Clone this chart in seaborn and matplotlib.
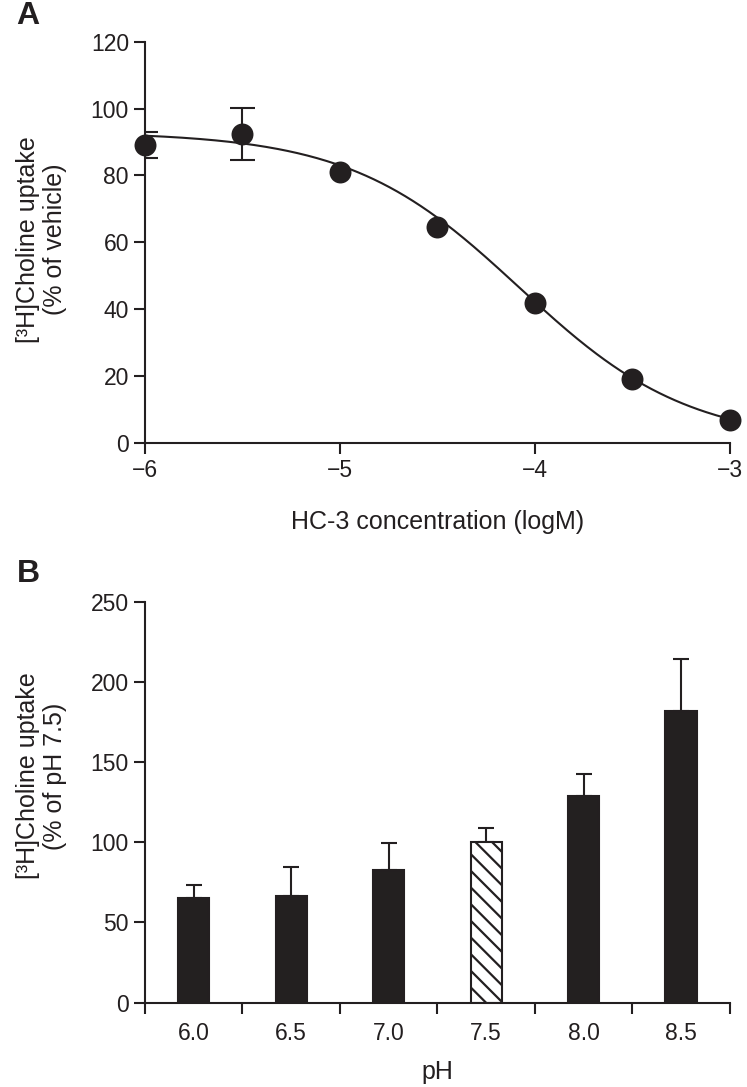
import numpy as np
import pandas as pd
import matplotlib
matplotlib.use("Agg")
import matplotlib.pyplot as plt
import seaborn as sns

# Panel A: HC-3 concentration-response
log_conc = [-6.0, -5.5, -5.0, -4.5, -4.0, -3.5, -3.0]
uptake_mean = [89.0, 92.5, 81.0, 64.5, 42.0, 19.0, 7.0]
uptake_sem = [3.9, 7.8, np.nan, np.nan, np.nan, np.nan, np.nan]

# fitted sigmoid (Hill) parameters of the drawn curve
fit_top = 93.0
fit_bottom = 0.0
fit_logic50 = -4.08
fit_hill = 1.0

# Panel B: pH dependence
ph_labels = ["6.0", "6.5", "7.0", "7.5", "8.0", "8.5"]
ph_uptake = [65.0, 66.5, 82.5, 100.0, 129.0, 182.0]
ph_sem = [8.4, 18.0, 17.0, 9.0, 13.7, 32.0]

INK = "#231f20"

sns.set_style("ticks")
plt.rcParams["font.family"] = ["Liberation Sans", "DejaVu Sans"]
plt.rcParams["text.color"] = INK
plt.rcParams["axes.labelcolor"] = INK
plt.rcParams["xtick.color"] = INK
plt.rcParams["ytick.color"] = INK
plt.rcParams["hatch.linewidth"] = 1.6
plt.rcParams["hatch.color"] = INK

fig = plt.figure(figsize=(7.47, 10.87), dpi=100)
ax_a = fig.add_axes([0.194, 0.5925, 0.783, 0.3691])
ax_b = fig.add_axes([0.194, 0.0777, 0.783, 0.3688])

fs = 16.5
fs_lab = 18
lw = 1.5

# ---- Panel A ----
xs = np.linspace(-6, -3, 300)
curve = fit_bottom + (fit_top - fit_bottom) / (1 + 10 ** ((xs - fit_logic50) * fit_hill))
sns.lineplot(x=xs, y=curve, ax=ax_a, color=INK, linewidth=1.5)
ax_a.errorbar(log_conc, uptake_mean, yerr=uptake_sem, fmt="none", ecolor=INK,
              elinewidth=1.5, capsize=9, capthick=1.5, zorder=3)
sns.scatterplot(x=log_conc, y=uptake_mean, ax=ax_a, color=INK, s=250,
                edgecolor=INK, linewidth=0, zorder=4, clip_on=False)

ax_a.set_xlim(-6, -3)
ax_a.set_ylim(0, 120)
ax_a.set_xticks([-6, -5, -4, -3])
ax_a.set_xticklabels(["\u22126", "\u22125", "\u22124", "\u22123"])
ax_a.set_yticks(range(0, 121, 20))
ax_a.set_xlabel("HC-3 concentration (logM)", fontsize=fs_lab, labelpad=20)
ax_a.set_ylabel("[\u00b3H]Choline uptake\n(% of vehicle)", fontsize=fs_lab,
                linespacing=1.15)
ax_a.yaxis.set_label_coords(-0.133, 0.508)

# ---- Panel B ----
df_b = pd.DataFrame({"pH": ph_labels, "uptake": ph_uptake})
pal = {p: ("white" if p == "7.5" else INK) for p in ph_labels}
sns.barplot(data=df_b, x="pH", y="uptake", hue="pH", palette=pal, legend=False,
            width=0.32, edgecolor=INK, linewidth=1.5, ax=ax_b, zorder=2)
for patch, p in zip(ax_b.patches, ph_labels):
    if p == "7.5":
        patch.set_hatch("\\\\")
ax_b.errorbar(range(len(ph_labels)), ph_uptake,
              yerr=[np.zeros(len(ph_sem)), ph_sem], fmt="none", ecolor=INK,
              elinewidth=1.5, capsize=6, capthick=1.5, zorder=1)

ax_b.set_xlim(-0.5, len(ph_labels) - 0.5)
ax_b.set_ylim(0, 250)
ax_b.set_yticks(range(0, 251, 50))
ax_b.set_xticks(np.arange(-0.5, len(ph_labels), 1.0))
ax_b.set_xticklabels([])
ax_b.set_xticks(range(len(ph_labels)), minor=True)
ax_b.set_xticklabels(ph_labels, minor=True)
ax_b.tick_params(axis="x", which="minor", length=0, pad=14)
ax_b.set_xlabel("pH", fontsize=fs_lab, labelpad=11)
ax_b.set_ylabel("[\u00b3H]Choline uptake\n(% of pH 7.5)", fontsize=fs_lab,
                linespacing=1.15)
ax_b.yaxis.set_label_coords(-0.133, 0.565)

for ax in (ax_a, ax_b):
    sns.despine(ax=ax)
    ax.spines["left"].set_linewidth(lw)
    ax.spines["bottom"].set_linewidth(lw)
    ax.spines["left"].set_color(INK)
    ax.spines["bottom"].set_color(INK)
    ax.tick_params(axis="both", which="major", labelsize=fs, width=lw, length=8,
                   direction="out")
    ax.tick_params(axis="x", which="minor", labelsize=fs)

fig.text(0.022, 0.985, "A", fontsize=23, fontweight="bold", va="center", ha="left")
fig.text(0.022, 0.472, "B", fontsize=23, fontweight="bold", va="center", ha="left")

fig.savefig("out.png", dpi=100)
